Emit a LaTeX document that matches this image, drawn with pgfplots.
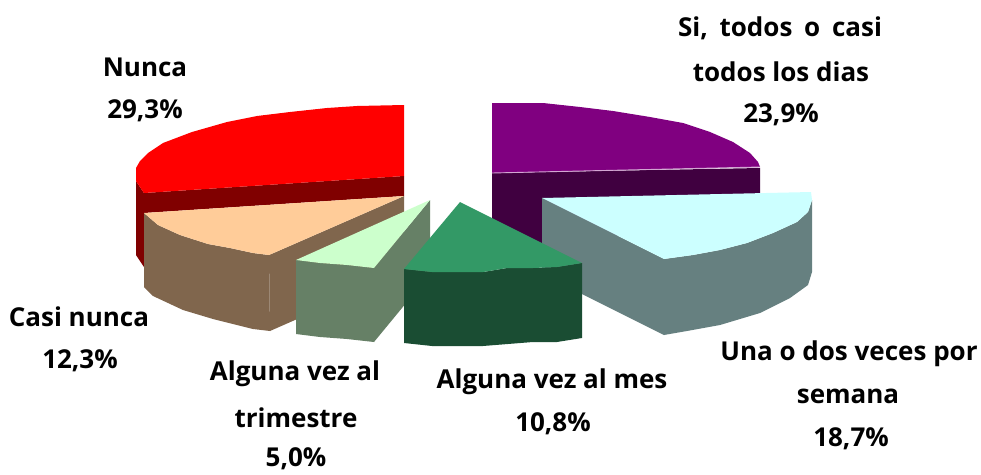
\documentclass[border=0pt]{standalone}
\usepackage{pgfplots}
\pgfplotsset{compat=1.18}
\usepackage{fontspec}
\setmainfont{Open Sans}[BoldFont={Open Sans Bold}]
\definecolor{cred}{HTML}{FF0000}\definecolor{dred}{HTML}{800000}
\definecolor{cpeach}{HTML}{FFCC99}\definecolor{dpeach}{HTML}{80664D}
\definecolor{clg}{HTML}{CCFFCC}\definecolor{dlg}{HTML}{668066}
\definecolor{cg}{HTML}{339966}\definecolor{dg}{HTML}{1A4D33}
\definecolor{ccy}{HTML}{CCFFFF}\definecolor{dcy}{HTML}{668080}
\definecolor{cpu}{HTML}{800080}\definecolor{dpu}{HTML}{400040}
\tikzset{lab/.style={font=\fontsize{26}{26}\selectfont\bfseries,anchor=center,text=black,inner sep=0pt}}
\begin{document}
\begin{tikzpicture}
\begin{axis}[scale only axis,width=981pt,height=474pt,xmin=0,xmax=981,ymin=0,ymax=474,y dir=reverse,hide axis,clip=false,
  every axis plot/.append style={no marks,draw=none}]
\addplot[fill=white] coordinates {(0,0)(981,0)(981,474)(0,474)} -- cycle;
% purple slice
\addplot[fill=dpu] coordinates {(492,173)(760,168)(760,200)(560,250)(492,250)} -- cycle;
\addplot[fill=cpu] coordinates {(492,103)(543,103)(580,107)(613,111)(650,117)(683,123)(710,132)(733,142)(750,153)(758,162)(760,167)(492,173)} -- cycle;
\addplot[draw=cpu!35!white,line width=0.9pt] coordinates {(492,173)(760,167)};
% red slice
\addplot[fill=dred] coordinates {(136,181)(144,193)(144,267)(136,255)} -- cycle;
\addplot[fill=dred] coordinates {(144,193)(404,176)(404,196)(144,213)} -- cycle;
\addplot[fill=cred] coordinates {(404,105)(357,106)(327,108)(290,112)(257,116)(227,122)(192,132)(163,143)(148,153)(140,161)(136,168)(136,181)(144,193)(404,176)} -- cycle;
% peach slice
\addplot[fill=dpeach] coordinates {(404,196)(269,255)(270,331)(404,272)} -- cycle;
\addplot[fill=dpeach] coordinates {(144,213)(158,225)(180,235)(208,244)(230,248)(253,253)(269,255)(270,331)(253,329)(213,319)(183,310)(153,296)(144,287)} -- cycle;
\addplot[fill=cpeach] coordinates {(144,213)(404,196)(269,255)(253,253)(230,248)(208,244)(180,235)(158,225)} -- cycle;
% light green slice
\addplot[fill=dlg] coordinates {(430,200)(374,268)(374,342)(430,274)} -- cycle;
\addplot[fill=dlg] coordinates {(296,260)(320,263)(347,265)(374,268)(374,342)(347,339)(320,337)(296,334)} -- cycle;
\addplot[fill=clg] coordinates {(430,200)(296,260)(320,263)(347,265)(374,268)} -- cycle;
% cyan slice
\addplot[fill=dcy] coordinates {(542,198)(664,259)(664,335)(582,294)(542,275)} -- cycle;
\addplot[fill=dcy] coordinates {(664,259)(693,255)(720,250)(747,243)(773,233)(797,222)(808,212)(812,200)(812,272)(808,285)(790,298)(760,313)(720,325)(687,331)(664,335)} -- cycle;
\addplot[fill=ccy] coordinates {(542,198)(811,192)(812,200)(808,212)(797,222)(773,233)(747,243)(720,250)(693,255)(664,259)} -- cycle;
% dark green slice
\addplot[fill=dg] coordinates {(404,269)(432,272)(483,272)(507,268)(533,268)(557,267)(582,263)(582,338)(557,342)(533,342)(483,346)(432,346)(404,343)} -- cycle;
\addplot[fill=cg] coordinates {(460,202)(582,263)(557,267)(533,268)(507,268)(483,272)(432,272)(404,269)} -- cycle;
\node[lab] at (axis cs:145,67) {Nunca};
\node[lab] at (axis cs:145,111) {29,3\%};
\node[lab] at (axis cs:780,28) {Si,\hspace{5pt} todos\hspace{5pt} o\hspace{5pt} casi};
\node[lab] at (axis cs:781,72) {todos los dias};
\node[lab] at (axis cs:781,115) {23,9\%};
\node[lab] at (axis cs:849,354) {Una o dos veces por};
\node[lab] at (axis cs:848,396) {semana};
\node[lab] at (axis cs:851,439) {18,7\%};
\node[lab] at (axis cs:552,382) {Alguna vez al mes};
\node[lab] at (axis cs:553,424) {10,8\%};
\node[lab] at (axis cs:295,374) {Alguna vez al};
\node[lab] at (axis cs:296,418) {trimestre};
\node[lab] at (axis cs:296,459) {5,0\%};
\node[lab] at (axis cs:79,317) {Casi nunca};
\node[lab] at (axis cs:80,361) {12,3\%};
\end{axis}
\end{tikzpicture}
\end{document}
